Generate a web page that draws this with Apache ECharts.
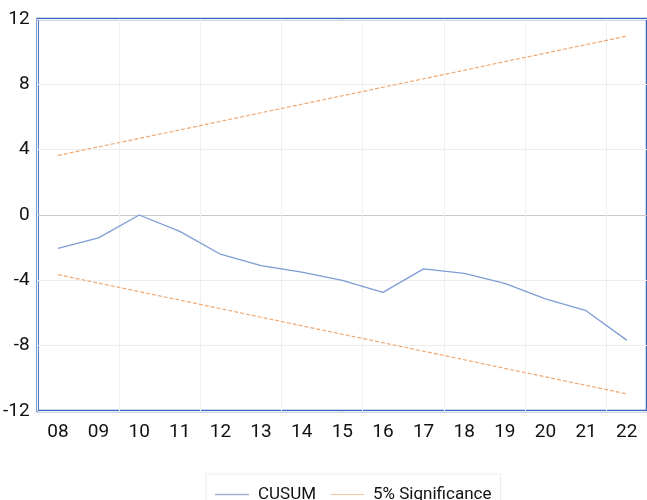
<!DOCTYPE html>
<html>
<head>
<meta charset="utf-8">
<script src="https://cdn.jsdelivr.net/npm/echarts@6/dist/echarts.min.js"></script>
<style>html,body{margin:0;padding:0;background:#fff}#c{width:647px;height:500px}</style>
</head>
<body>
<div id="c"></div>
<script>
var years = ['08','09','10','11','12','13','14','15','16','17','18','19','20','21','22'];
var cusum = [-2.04,-1.4,0.0,-1.0,-2.4,-3.1,-3.5,-4.0,-4.74,-3.3,-3.57,-4.18,-5.14,-5.86,-7.66];
var upper = [3.65,4.17,4.69,5.21,5.73,6.26,6.78,7.30,7.82,8.34,8.86,9.39,9.91,10.43,10.95];
var lower = [-3.65,-4.17,-4.69,-5.21,-5.73,-6.26,-6.78,-7.30,-7.82,-8.34,-8.86,-9.39,-9.91,-10.43,-10.95];
var yTicks = [-12,-8,-4,0,4,8,12];

var chart = echarts.init(document.getElementById('c'));
var font = 'Roboto';
chart.setOption({
  animation: false,
  grid: {left: 37, right: -3, top: 19, bottom: 89, show: true, borderColor: '#3a68c0', borderWidth: 2.5, backgroundColor: 'transparent'},
  legend: {
    left: 206, top: 474, padding: [12, 9, 0, 9],
    borderColor: '#ececec', borderWidth: 1,
    itemWidth: 34, itemHeight: 12, itemGap: 14,
    textStyle: {fontFamily: font, fontSize: 17, color: '#111', padding: [0, 0, 0, 4]},
    data: [
      {name: 'CUSUM', icon: 'path://M0,6L35,6L35,7.5L0,7.5Z'},
      {name: '5% Significance', icon: 'path://M0,6L35,6L35,7L0,7Z'}
    ]
  },
  xAxis: {
    type: 'category', data: years, boundaryGap: true,
    axisLine: {show: false},
    axisTick: {show: false},
    axisLabel: {fontFamily: font, fontSize: 19, color: '#111', margin: 12, interval: 0},
    splitLine: {show: true, interval: 1, lineStyle: {color: '#f0f0f0', width: 1}}
  },
  yAxis: {
    type: 'value', min: -12, max: 12, interval: 4,
    axisLine: {show: false},
    axisTick: {show: false},
    axisLabel: {fontFamily: font, fontSize: 19, color: '#111', margin: 8},
    splitLine: {show: true, lineStyle: {color: ['#ededed','#ededed','#ededed','#c8c8c8','#ededed','#ededed','#ededed'], width: 1}}
  },
  series: [
    {name: 'CUSUM', type: 'line', data: cusum, symbol: 'none', lineStyle: {color: '#7f9cd4', width: 1.3}, itemStyle: {color: '#9fb3d9'}},
    {name: '5% Significance', type: 'line', data: upper, symbol: 'none', lineStyle: {color: '#f0a872', width: 1.2, type: [4, 2]}, itemStyle: {color: '#f3c7a4'}},
    {name: '5% Significance', type: 'line', data: lower, symbol: 'none', lineStyle: {color: '#f0a872', width: 1.2, type: [4, 2]}, itemStyle: {color: '#f3c7a4'}}
  ]
});
</script>
</body>
</html>
